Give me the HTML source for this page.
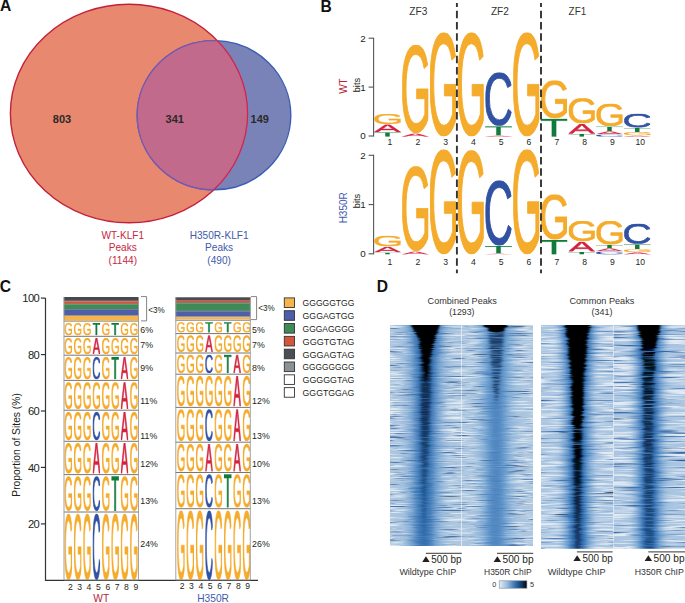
<!DOCTYPE html>
<html><head><meta charset="utf-8"><title>Figure</title><style>
html,body{margin:0;padding:0;background:#fff;}
body{width:685px;height:603px;overflow:hidden;position:relative;font-family:"Liberation Sans", sans-serif;}
svg{position:absolute;left:0;top:0;display:block;}
svg text{font-family:"Liberation Sans", sans-serif;}
</style></head><body>
<svg width="685" height="603" viewBox="0 0 685 603">
<defs><symbol id="RG" viewBox="0 0 1337 1450" preserveAspectRatio="none"><path d="M0 719Q0 376 184 188Q368 0 701 0Q935 0 1081 79Q1227 158 1306 332L1124 386Q1064 266 958.5 211Q853 156 696 156Q452 156 323 303.5Q194 451 194 719Q194 986 331 1140.5Q468 1295 710 1295Q848 1295 967.5 1253Q1087 1211 1161 1139V885H740V725H1337V1211Q1225 1325 1062.5 1387.5Q900 1450 710 1450Q489 1450 329 1362Q169 1274 84.5 1108.5Q0 943 0 719Z" vector-effect="non-scaling-stroke"/></symbol><symbol id="RA" viewBox="0 0 1358 1409" preserveAspectRatio="none"><path d="M1163 1409 1002 997H360L198 1409H0L575 0H792L1358 1409ZM681 144 672 172Q647 255 598 385L418 848H945L764 383Q736 314 708 227Z" vector-effect="non-scaling-stroke"/></symbol><symbol id="RC" viewBox="0 0 1297 1450" preserveAspectRatio="none"><path d="M688 156Q454 156 324 306.5Q194 457 194 719Q194 978 329.5 1135.5Q465 1293 696 1293Q992 1293 1141 1000L1297 1078Q1210 1260 1052.5 1355Q895 1450 687 1450Q474 1450 318.5 1361.5Q163 1273 81.5 1108.5Q0 944 0 719Q0 382 182 191Q364 0 686 0Q911 0 1062 88Q1213 176 1284 349L1103 409Q1054 286 945.5 221Q837 156 688 156Z" vector-effect="non-scaling-stroke"/></symbol><symbol id="RT" viewBox="0 0 1158 1409" preserveAspectRatio="none"><path d="M674 156V1409H484V156H0V0H1158V156Z" vector-effect="non-scaling-stroke"/></symbol><linearGradient id="cbar" x1="0" x2="1" y1="0" y2="0"><stop offset="0" stop-color="#E4EEF8"/><stop offset="0.3" stop-color="#93B8DE"/><stop offset="0.55" stop-color="#3A78B8"/><stop offset="0.8" stop-color="#133C6E"/><stop offset="1" stop-color="#02060E"/></linearGradient><filter id="bl1_0" x="-50%" y="-10%" width="200%" height="120%"><feGaussianBlur stdDeviation="1.0 0.6"/></filter><filter id="bl1_2" x="-50%" y="-10%" width="200%" height="120%"><feGaussianBlur stdDeviation="1.2 0.6"/></filter><filter id="bl1_5" x="-50%" y="-10%" width="200%" height="120%"><feGaussianBlur stdDeviation="1.5 0.6"/></filter><filter id="bl2" x="-50%" y="-10%" width="200%" height="120%"><feGaussianBlur stdDeviation="2 0.6"/></filter><filter id="bl2_5" x="-50%" y="-10%" width="200%" height="120%"><feGaussianBlur stdDeviation="2.5 0.6"/></filter><filter id="bl3" x="-50%" y="-10%" width="200%" height="120%"><feGaussianBlur stdDeviation="3 0.6"/></filter><filter id="bl3_5" x="-50%" y="-10%" width="200%" height="120%"><feGaussianBlur stdDeviation="3.5 0.6"/></filter><filter id="bl4" x="-50%" y="-10%" width="200%" height="120%"><feGaussianBlur stdDeviation="4 0.6"/></filter><filter id="bl5" x="-50%" y="-10%" width="200%" height="120%"><feGaussianBlur stdDeviation="5 0.6"/></filter><filter id="bl7" x="-50%" y="-10%" width="200%" height="120%"><feGaussianBlur stdDeviation="7 0.6"/></filter><clipPath id="hca"><rect x="390.0" y="325.0" width="71.5" height="221.0"/></clipPath><filter id="twa" x="390.0" y="325.0" width="71.5" height="221.0" filterUnits="userSpaceOnUse" color-interpolation-filters="sRGB"><feTurbulence type="fractalNoise" baseFrequency="0.032 0.93" numOctaves="3" seed="2" result="n"/><feColorMatrix in="n" type="matrix" values="0 0 0 0 0.89 0 0 0 0 0.92 0 0 0 0 0.95 4.2 0 0 0 -2.0"/></filter><filter id="tda" x="390.0" y="325.0" width="71.5" height="221.0" filterUnits="userSpaceOnUse" color-interpolation-filters="sRGB"><feTurbulence type="fractalNoise" baseFrequency="0.032 0.93" numOctaves="3" seed="52" result="n"/><feColorMatrix in="n" type="matrix" values="0 0 0 0 0.3 0 0 0 0 0.45 0 0 0 0 0.65 -4.2 0 0 0 1.75"/></filter><filter id="tga" x="390.0" y="325.0" width="71.5" height="221.0" filterUnits="userSpaceOnUse" color-interpolation-filters="sRGB"><feTurbulence type="fractalNoise" baseFrequency="0.03 0.5" numOctaves="1" seed="92" result="n"/><feColorMatrix in="n" type="matrix" values="0 0 0 0 0.3 0 0 0 0 0.3 0 0 0 0 0.33 -9 0 0 0 2.5"/></filter><filter id="tma" x="390.0" y="325.0" width="71.5" height="221.0" filterUnits="userSpaceOnUse" color-interpolation-filters="sRGB"><feTurbulence type="fractalNoise" baseFrequency="0.02 0.83" numOctaves="2" seed="22" result="n"/><feColorMatrix in="n" type="matrix" values="2.5 0 0 0 -0.2 2.5 0 0 0 -0.2 2.5 0 0 0 -0.2 0 0 0 0 1"/></filter><mask id="mka" maskUnits="userSpaceOnUse" x="390.0" y="325.0" width="71.5" height="221.0"><rect x="390.0" y="325.0" width="71.5" height="221.0" fill="#fff" filter="url(#tma)"/></mask><filter id="tna" x="390.0" y="325.0" width="71.5" height="221.0" filterUnits="userSpaceOnUse" color-interpolation-filters="sRGB"><feTurbulence type="fractalNoise" baseFrequency="0.032 0.93" numOctaves="2" seed="22" result="n"/><feColorMatrix in="n" type="matrix" values="1.8 0 0 0 0.2 1.8 0 0 0 0.2 1.8 0 0 0 0.2 0 0 0 0 1"/></filter><mask id="mma" maskUnits="userSpaceOnUse" x="390.0" y="325.0" width="71.5" height="221.0"><rect x="390.0" y="325.0" width="71.5" height="221.0" fill="#fff" filter="url(#tna)"/></mask><filter id="dpa" x="380.0" y="325.0" width="91.5" height="221.0" filterUnits="userSpaceOnUse" color-interpolation-filters="sRGB"><feTurbulence type="fractalNoise" baseFrequency="0.01 0.93" numOctaves="2" seed="72" result="t"/><feColorMatrix in="t" type="matrix" values="1 0 0 0 0 0 0 0 0 0.5 0 0 0 0 0 0 0 0 0 1" result="m"/><feDisplacementMap in="SourceGraphic" in2="m" scale="4" xChannelSelector="R" yChannelSelector="G"/></filter><linearGradient id="vga0" gradientUnits="userSpaceOnUse" x1="0" y1="325.0" x2="0" y2="546.0"><stop offset="0.000" stop-color="#3E7CBE" stop-opacity="0.8"/><stop offset="1.000" stop-color="#4A86C4" stop-opacity="0.75"/></linearGradient><linearGradient id="vga1" gradientUnits="userSpaceOnUse" x1="0" y1="325.0" x2="0" y2="546.0"><stop offset="0.000" stop-color="#1F5CA0" stop-opacity="0.85"/><stop offset="0.452" stop-color="#2563A6" stop-opacity="0.8"/><stop offset="1.000" stop-color="#2A68AA" stop-opacity="0.8"/></linearGradient><linearGradient id="vga2" gradientUnits="userSpaceOnUse" x1="0" y1="325.0" x2="0" y2="546.0"><stop offset="0.000" stop-color="#081E3C" stop-opacity="0.95"/><stop offset="0.407" stop-color="#0C2A50" stop-opacity="0.9"/><stop offset="0.679" stop-color="#163E6E" stop-opacity="0.7"/><stop offset="1.000" stop-color="#1A4A80" stop-opacity="0.5"/></linearGradient><clipPath id="hcb"><rect x="461.5" y="325.0" width="71.5" height="221.0"/></clipPath><filter id="twb" x="461.5" y="325.0" width="71.5" height="221.0" filterUnits="userSpaceOnUse" color-interpolation-filters="sRGB"><feTurbulence type="fractalNoise" baseFrequency="0.032 0.93" numOctaves="3" seed="2" result="n"/><feColorMatrix in="n" type="matrix" values="0 0 0 0 0.89 0 0 0 0 0.92 0 0 0 0 0.95 4.2 0 0 0 -2.0"/></filter><filter id="tdb" x="461.5" y="325.0" width="71.5" height="221.0" filterUnits="userSpaceOnUse" color-interpolation-filters="sRGB"><feTurbulence type="fractalNoise" baseFrequency="0.032 0.93" numOctaves="3" seed="52" result="n"/><feColorMatrix in="n" type="matrix" values="0 0 0 0 0.3 0 0 0 0 0.45 0 0 0 0 0.65 -4.2 0 0 0 1.75"/></filter><filter id="tgb" x="461.5" y="325.0" width="71.5" height="221.0" filterUnits="userSpaceOnUse" color-interpolation-filters="sRGB"><feTurbulence type="fractalNoise" baseFrequency="0.03 0.5" numOctaves="1" seed="92" result="n"/><feColorMatrix in="n" type="matrix" values="0 0 0 0 0.3 0 0 0 0 0.3 0 0 0 0 0.33 -9 0 0 0 2.5"/></filter><filter id="tmb" x="461.5" y="325.0" width="71.5" height="221.0" filterUnits="userSpaceOnUse" color-interpolation-filters="sRGB"><feTurbulence type="fractalNoise" baseFrequency="0.02 0.83" numOctaves="2" seed="22" result="n"/><feColorMatrix in="n" type="matrix" values="4.0 0 0 0 -1.3 4.0 0 0 0 -1.3 4.0 0 0 0 -1.3 0 0 0 0 1"/></filter><mask id="mkb" maskUnits="userSpaceOnUse" x="461.5" y="325.0" width="71.5" height="221.0"><rect x="461.5" y="325.0" width="71.5" height="221.0" fill="#fff" filter="url(#tmb)"/></mask><filter id="tnb" x="461.5" y="325.0" width="71.5" height="221.0" filterUnits="userSpaceOnUse" color-interpolation-filters="sRGB"><feTurbulence type="fractalNoise" baseFrequency="0.032 0.93" numOctaves="2" seed="22" result="n"/><feColorMatrix in="n" type="matrix" values="1.8 0 0 0 0.2 1.8 0 0 0 0.2 1.8 0 0 0 0.2 0 0 0 0 1"/></filter><mask id="mmb" maskUnits="userSpaceOnUse" x="461.5" y="325.0" width="71.5" height="221.0"><rect x="461.5" y="325.0" width="71.5" height="221.0" fill="#fff" filter="url(#tnb)"/></mask><filter id="dpb" x="451.5" y="325.0" width="91.5" height="221.0" filterUnits="userSpaceOnUse" color-interpolation-filters="sRGB"><feTurbulence type="fractalNoise" baseFrequency="0.01 0.93" numOctaves="2" seed="72" result="t"/><feColorMatrix in="t" type="matrix" values="1 0 0 0 0 0 0 0 0 0.5 0 0 0 0 0 0 0 0 0 1" result="m"/><feDisplacementMap in="SourceGraphic" in2="m" scale="4" xChannelSelector="R" yChannelSelector="G"/></filter><clipPath id="hcc"><rect x="541.0" y="325.0" width="72.5" height="223.70000000000005"/></clipPath><filter id="twc" x="541.0" y="325.0" width="72.5" height="223.70000000000005" filterUnits="userSpaceOnUse" color-interpolation-filters="sRGB"><feTurbulence type="fractalNoise" baseFrequency="0.02 0.55" numOctaves="2" seed="3" result="n"/><feColorMatrix in="n" type="matrix" values="0 0 0 0 0.89 0 0 0 0 0.92 0 0 0 0 0.95 4.5 0 0 0 -2.0"/></filter><filter id="tdc" x="541.0" y="325.0" width="72.5" height="223.70000000000005" filterUnits="userSpaceOnUse" color-interpolation-filters="sRGB"><feTurbulence type="fractalNoise" baseFrequency="0.02 0.55" numOctaves="2" seed="53" result="n"/><feColorMatrix in="n" type="matrix" values="0 0 0 0 0.16 0 0 0 0 0.36 0 0 0 0 0.62 -4.0 0 0 0 1.6"/></filter><filter id="tgc" x="541.0" y="325.0" width="72.5" height="223.70000000000005" filterUnits="userSpaceOnUse" color-interpolation-filters="sRGB"><feTurbulence type="fractalNoise" baseFrequency="0.04 0.5" numOctaves="1" seed="93" result="n"/><feColorMatrix in="n" type="matrix" values="0 0 0 0 0.3 0 0 0 0 0.3 0 0 0 0 0.33 -9 0 0 0 2.45"/></filter><filter id="tmc" x="541.0" y="325.0" width="72.5" height="223.70000000000005" filterUnits="userSpaceOnUse" color-interpolation-filters="sRGB"><feTurbulence type="fractalNoise" baseFrequency="0.02 0.55" numOctaves="2" seed="23" result="n"/><feColorMatrix in="n" type="matrix" values="4.0 0 0 0 -0.6 4.0 0 0 0 -0.6 4.0 0 0 0 -0.6 0 0 0 0 1"/></filter><mask id="mkc" maskUnits="userSpaceOnUse" x="541.0" y="325.0" width="72.5" height="223.70000000000005"><rect x="541.0" y="325.0" width="72.5" height="223.70000000000005" fill="#fff" filter="url(#tmc)"/></mask><filter id="tnc" x="541.0" y="325.0" width="72.5" height="223.70000000000005" filterUnits="userSpaceOnUse" color-interpolation-filters="sRGB"><feTurbulence type="fractalNoise" baseFrequency="0.02 0.55" numOctaves="2" seed="23" result="n"/><feColorMatrix in="n" type="matrix" values="1.6 0 0 0 0.35 1.6 0 0 0 0.35 1.6 0 0 0 0.35 0 0 0 0 1"/></filter><mask id="mmc" maskUnits="userSpaceOnUse" x="541.0" y="325.0" width="72.5" height="223.70000000000005"><rect x="541.0" y="325.0" width="72.5" height="223.70000000000005" fill="#fff" filter="url(#tnc)"/></mask><filter id="dpc" x="531.0" y="325.0" width="92.5" height="223.70000000000005" filterUnits="userSpaceOnUse" color-interpolation-filters="sRGB"><feTurbulence type="fractalNoise" baseFrequency="0.01 0.55" numOctaves="2" seed="73" result="t"/><feColorMatrix in="t" type="matrix" values="1 0 0 0 0 0 0 0 0 0.5 0 0 0 0 0 0 0 0 0 1" result="m"/><feDisplacementMap in="SourceGraphic" in2="m" scale="5" xChannelSelector="R" yChannelSelector="G"/></filter><linearGradient id="vgc0" gradientUnits="userSpaceOnUse" x1="0" y1="325.0" x2="0" y2="548.7"><stop offset="0.000" stop-color="#3A78BA" stop-opacity="0.8"/><stop offset="1.000" stop-color="#4282C2" stop-opacity="0.72"/></linearGradient><linearGradient id="vgc1" gradientUnits="userSpaceOnUse" x1="0" y1="325.0" x2="0" y2="548.7"><stop offset="0.000" stop-color="#2A68AC" stop-opacity="0.9"/><stop offset="1.000" stop-color="#2A68AC" stop-opacity="0.85"/></linearGradient><linearGradient id="vgc2" gradientUnits="userSpaceOnUse" x1="0" y1="325.0" x2="0" y2="548.7"><stop offset="0.000" stop-color="#0E2F58" stop-opacity="0.95"/><stop offset="0.671" stop-color="#123A6A" stop-opacity="0.85"/><stop offset="1.000" stop-color="#1A4A80" stop-opacity="0.6"/></linearGradient><linearGradient id="vgc4" gradientUnits="userSpaceOnUse" x1="0" y1="325.0" x2="0" y2="548.7"><stop offset="0.000" stop-color="#000000" stop-opacity="1"/><stop offset="0.536" stop-color="#000000" stop-opacity="1"/><stop offset="0.760" stop-color="#0A1A30" stop-opacity="0.85"/><stop offset="1.000" stop-color="#0E2A50" stop-opacity="0.6"/></linearGradient><clipPath id="hcd"><rect x="613.5" y="325.0" width="71.5" height="223.70000000000005"/></clipPath><filter id="twd" x="613.5" y="325.0" width="71.5" height="223.70000000000005" filterUnits="userSpaceOnUse" color-interpolation-filters="sRGB"><feTurbulence type="fractalNoise" baseFrequency="0.02 0.55" numOctaves="2" seed="4" result="n"/><feColorMatrix in="n" type="matrix" values="0 0 0 0 0.89 0 0 0 0 0.92 0 0 0 0 0.95 4.5 0 0 0 -2.0"/></filter><filter id="tdd" x="613.5" y="325.0" width="71.5" height="223.70000000000005" filterUnits="userSpaceOnUse" color-interpolation-filters="sRGB"><feTurbulence type="fractalNoise" baseFrequency="0.02 0.55" numOctaves="2" seed="54" result="n"/><feColorMatrix in="n" type="matrix" values="0 0 0 0 0.16 0 0 0 0 0.36 0 0 0 0 0.62 -4.0 0 0 0 1.6"/></filter><filter id="tgd" x="613.5" y="325.0" width="71.5" height="223.70000000000005" filterUnits="userSpaceOnUse" color-interpolation-filters="sRGB"><feTurbulence type="fractalNoise" baseFrequency="0.04 0.5" numOctaves="1" seed="94" result="n"/><feColorMatrix in="n" type="matrix" values="0 0 0 0 0.3 0 0 0 0 0.3 0 0 0 0 0.33 -9 0 0 0 2.45"/></filter><filter id="tmd" x="613.5" y="325.0" width="71.5" height="223.70000000000005" filterUnits="userSpaceOnUse" color-interpolation-filters="sRGB"><feTurbulence type="fractalNoise" baseFrequency="0.02 0.55" numOctaves="2" seed="24" result="n"/><feColorMatrix in="n" type="matrix" values="4.0 0 0 0 -1.2 4.0 0 0 0 -1.2 4.0 0 0 0 -1.2 0 0 0 0 1"/></filter><mask id="mkd" maskUnits="userSpaceOnUse" x="613.5" y="325.0" width="71.5" height="223.70000000000005"><rect x="613.5" y="325.0" width="71.5" height="223.70000000000005" fill="#fff" filter="url(#tmd)"/></mask><filter id="tnd" x="613.5" y="325.0" width="71.5" height="223.70000000000005" filterUnits="userSpaceOnUse" color-interpolation-filters="sRGB"><feTurbulence type="fractalNoise" baseFrequency="0.02 0.55" numOctaves="2" seed="24" result="n"/><feColorMatrix in="n" type="matrix" values="1.6 0 0 0 0.35 1.6 0 0 0 0.35 1.6 0 0 0 0.35 0 0 0 0 1"/></filter><mask id="mmd" maskUnits="userSpaceOnUse" x="613.5" y="325.0" width="71.5" height="223.70000000000005"><rect x="613.5" y="325.0" width="71.5" height="223.70000000000005" fill="#fff" filter="url(#tnd)"/></mask><filter id="dpd" x="603.5" y="325.0" width="91.5" height="223.70000000000005" filterUnits="userSpaceOnUse" color-interpolation-filters="sRGB"><feTurbulence type="fractalNoise" baseFrequency="0.01 0.55" numOctaves="2" seed="74" result="t"/><feColorMatrix in="t" type="matrix" values="1 0 0 0 0 0 0 0 0 0.5 0 0 0 0 0 0 0 0 0 1" result="m"/><feDisplacementMap in="SourceGraphic" in2="m" scale="5" xChannelSelector="R" yChannelSelector="G"/></filter><linearGradient id="vgd0" gradientUnits="userSpaceOnUse" x1="0" y1="325.0" x2="0" y2="548.7"><stop offset="0.000" stop-color="#3A78BA" stop-opacity="0.8"/><stop offset="1.000" stop-color="#4282C2" stop-opacity="0.72"/></linearGradient><linearGradient id="vgd1" gradientUnits="userSpaceOnUse" x1="0" y1="325.0" x2="0" y2="548.7"><stop offset="0.000" stop-color="#2A68AC" stop-opacity="0.9"/><stop offset="1.000" stop-color="#2A68AC" stop-opacity="0.85"/></linearGradient><linearGradient id="vgd3" gradientUnits="userSpaceOnUse" x1="0" y1="325.0" x2="0" y2="548.7"><stop offset="0.000" stop-color="#000000" stop-opacity="1"/><stop offset="0.179" stop-color="#020810" stop-opacity="1"/><stop offset="0.447" stop-color="#0C1F3A" stop-opacity="0.85"/><stop offset="1.000" stop-color="#163A66" stop-opacity="0.6"/></linearGradient></defs>
<text x="0" y="11.4" font-size="15.6" text-anchor="start" fill="#111" font-weight="bold" >A</text>
<ellipse cx="129" cy="113.5" rx="118.6" ry="109.2" fill="#E8886F" stroke="#C3203A" stroke-width="1.4"/>
<clipPath id="cbig"><ellipse cx="129" cy="113.5" rx="118.6" ry="109.2"/></clipPath>
<ellipse cx="214" cy="115.2" rx="76.8" ry="74.6" fill="#7A83B8" stroke="#3B5DB4" stroke-width="1.4"/>
<ellipse cx="214" cy="115.2" rx="76.8" ry="74.6" fill="#C26A8B" stroke="#7B58B0" stroke-width="1.4" clip-path="url(#cbig)"/>
<clipPath id="csmall"><ellipse cx="214" cy="115.2" rx="76.8" ry="74.6"/></clipPath>
<ellipse cx="129" cy="113.5" rx="118.6" ry="109.2" fill="none" stroke="#D02550" stroke-width="1.3" clip-path="url(#csmall)"/>
<text x="62" y="122.6" font-size="11" text-anchor="middle" fill="#2a2a2a" font-weight="bold" >803</text>
<text x="174.8" y="122.6" font-size="11" text-anchor="middle" fill="#2a2a2a" font-weight="bold" >341</text>
<text x="259.8" y="122.6" font-size="11" text-anchor="middle" fill="#2a2a2a" font-weight="bold" >149</text>
<text x="122.8" y="239.2" font-size="10.1" text-anchor="middle" fill="#C8283F" font-weight="normal" >WT-KLF1</text>
<text x="122.8" y="251.39999999999998" font-size="10.1" text-anchor="middle" fill="#C8283F" font-weight="normal" >Peaks</text>
<text x="122.8" y="263.59999999999997" font-size="10.1" text-anchor="middle" fill="#C8283F" font-weight="normal" >(1144)</text>
<text x="219.1" y="239.2" font-size="10.1" text-anchor="middle" fill="#3F5AAE" font-weight="normal" >H350R-KLF1</text>
<text x="219.1" y="251.39999999999998" font-size="10.1" text-anchor="middle" fill="#3F5AAE" font-weight="normal" >Peaks</text>
<text x="219.1" y="263.59999999999997" font-size="10.1" text-anchor="middle" fill="#3F5AAE" font-weight="normal" >(490)</text>
<text x="320.6" y="11.7" font-size="15.6" text-anchor="start" fill="#111" font-weight="bold" >B</text>
<text x="418.35" y="14.9" font-size="10.6" text-anchor="middle" fill="#333" font-weight="normal" textLength="18.0" lengthAdjust="spacingAndGlyphs">ZF3</text>
<text x="499.9" y="14.9" font-size="10.6" text-anchor="middle" fill="#333" font-weight="normal" textLength="18.0" lengthAdjust="spacingAndGlyphs">ZF2</text>
<text x="577.4" y="14.9" font-size="10.6" text-anchor="middle" fill="#333" font-weight="normal" textLength="17.6" lengthAdjust="spacingAndGlyphs">ZF1</text>
<path d="M373.6 37.7V136.5" stroke="#555" stroke-width="1.1" fill="none"/>
<path d="M368.6 38.2H373.6" stroke="#555" stroke-width="1.1"/>
<text x="365.7" y="41.6" font-size="9.8" text-anchor="end" fill="#231f20" font-weight="normal" >2</text>
<path d="M368.6 87.1H373.6" stroke="#555" stroke-width="1.1"/>
<text x="365.7" y="90.5" font-size="9.8" text-anchor="end" fill="#231f20" font-weight="normal" >1</text>
<path d="M368.6 136.0H373.6" stroke="#555" stroke-width="1.1"/>
<text x="365.7" y="139.4" font-size="9.8" text-anchor="end" fill="#231f20" font-weight="normal" >0</text>
<text transform="translate(359.9 85.1) rotate(-90)" font-size="9.2" text-anchor="middle" fill="#231f20">bits</text>
<text transform="translate(346.6 86.1) rotate(-90)" font-size="10" text-anchor="middle" fill="#B5243A">WT</text>
<use href="#RT" x="374.04" y="132.37" width="26.91" height="4.38" fill="#117B3C" stroke="#117B3C" stroke-width="0.089452"/>
<use href="#RA" x="374.24" y="124.54" width="26.52" height="7.55" fill="#D2233E" stroke="#D2233E" stroke-width="0.48182100000000005"/>
<use href="#RG" x="374.32" y="114.04" width="26.37" height="9.94" fill="#F5AB2B" stroke="#F5AB2B" stroke-width="0.6342960000000001"/>
<use href="#RA" x="401.85" y="133.55" width="26.80" height="3.15" fill="#D2233E" stroke="#D2233E" stroke-width="0.20126699999999997"/>
<use href="#RG" x="402.20" y="44.95" width="26.10" height="88.04" fill="#F5AB2B" stroke="#F5AB2B" stroke-width="0.9"/>
<use href="#RG" x="429.95" y="32.55" width="26.10" height="103.80" fill="#F5AB2B" stroke="#F5AB2B" stroke-width="0.9"/>
<use href="#RG" x="457.70" y="32.55" width="26.10" height="103.80" fill="#F5AB2B" stroke="#F5AB2B" stroke-width="0.9"/>
<use href="#RA" x="485.04" y="135.52" width="26.92" height="1.24" fill="#D2233E" stroke="#D2233E" stroke-width="0.07928700000000001"/>
<use href="#RT" x="485.09" y="126.32" width="26.81" height="9.07" fill="#117B3C" stroke="#117B3C" stroke-width="0.185003"/>
<use href="#RC" x="485.45" y="72.50" width="26.10" height="53.28" fill="#3152A3" stroke="#3152A3" stroke-width="0.9"/>
<use href="#RG" x="513.20" y="32.45" width="26.10" height="103.90" fill="#F5AB2B" stroke="#F5AB2B" stroke-width="0.9"/>
<use href="#RT" x="540.65" y="118.75" width="26.70" height="17.90" fill="#117B3C" stroke="#117B3C" stroke-width="0.3"/>
<use href="#RG" x="540.95" y="80.43" width="26.10" height="37.73" fill="#F5AB2B" stroke="#F5AB2B" stroke-width="0.9"/>
<use href="#RT" x="568.28" y="133.98" width="26.94" height="2.79" fill="#117B3C" stroke="#117B3C" stroke-width="0.05692399999999999"/>
<use href="#RA" x="568.55" y="124.09" width="26.39" height="9.56" fill="#D2233E" stroke="#D2233E" stroke-width="0.6099"/>
<use href="#RG" x="568.70" y="98.22" width="26.10" height="25.12" fill="#F5AB2B" stroke="#F5AB2B" stroke-width="0.9"/>
<use href="#RC" x="596.07" y="134.53" width="26.86" height="2.20" fill="#3152A3" stroke="#3152A3" stroke-width="0.140277"/>
<use href="#RA" x="596.10" y="131.21" width="26.80" height="3.15" fill="#D2233E" stroke="#D2233E" stroke-width="0.20126699999999997"/>
<use href="#RT" x="596.05" y="126.48" width="26.91" height="4.58" fill="#117B3C" stroke="#117B3C" stroke-width="0.09351799999999999"/>
<use href="#RG" x="596.45" y="103.71" width="26.10" height="22.28" fill="#F5AB2B" stroke="#F5AB2B" stroke-width="0.9"/>
<use href="#RA" x="623.79" y="135.52" width="26.92" height="1.24" fill="#D2233E" stroke="#D2233E" stroke-width="0.07928700000000001"/>
<use href="#RG" x="623.86" y="132.03" width="26.79" height="3.34" fill="#F5AB2B" stroke="#F5AB2B" stroke-width="0.213465"/>
<use href="#RT" x="623.79" y="127.90" width="26.92" height="3.98" fill="#117B3C" stroke="#117B3C" stroke-width="0.08132"/>
<use href="#RC" x="624.18" y="113.85" width="26.13" height="13.57" fill="#3152A3" stroke="#3152A3" stroke-width="0.866058"/>
<text x="390.0" y="144.9" font-size="8.6" text-anchor="middle" fill="#231f20" font-weight="normal" >1</text>
<text x="417.8" y="144.9" font-size="8.6" text-anchor="middle" fill="#231f20" font-weight="normal" >2</text>
<text x="445.6" y="144.9" font-size="8.6" text-anchor="middle" fill="#231f20" font-weight="normal" >3</text>
<text x="473.4" y="144.9" font-size="8.6" text-anchor="middle" fill="#231f20" font-weight="normal" >4</text>
<text x="501.2" y="144.9" font-size="8.6" text-anchor="middle" fill="#231f20" font-weight="normal" >5</text>
<text x="529.0" y="144.9" font-size="8.6" text-anchor="middle" fill="#231f20" font-weight="normal" >6</text>
<text x="556.8" y="144.9" font-size="8.6" text-anchor="middle" fill="#231f20" font-weight="normal" >7</text>
<text x="584.6" y="144.9" font-size="8.6" text-anchor="middle" fill="#231f20" font-weight="normal" >8</text>
<text x="612.4" y="144.9" font-size="8.6" text-anchor="middle" fill="#231f20" font-weight="normal" >9</text>
<text x="640.2" y="144.9" font-size="8.6" text-anchor="middle" fill="#231f20" font-weight="normal" >10</text>
<path d="M373.6 154.8V254.3" stroke="#555" stroke-width="1.1" fill="none"/>
<path d="M368.6 155.3H373.6" stroke="#555" stroke-width="1.1"/>
<text x="365.7" y="158.7" font-size="9.8" text-anchor="end" fill="#231f20" font-weight="normal" >2</text>
<path d="M368.6 204.6H373.6" stroke="#555" stroke-width="1.1"/>
<text x="365.7" y="208.0" font-size="9.8" text-anchor="end" fill="#231f20" font-weight="normal" >1</text>
<path d="M368.6 253.8H373.6" stroke="#555" stroke-width="1.1"/>
<text x="365.7" y="257.2" font-size="9.8" text-anchor="end" fill="#231f20" font-weight="normal" >0</text>
<text transform="translate(359.9 201.0) rotate(-90)" font-size="9.2" text-anchor="middle" fill="#231f20">bits</text>
<text transform="translate(346.6 207.8) rotate(-90)" font-size="10" text-anchor="middle" fill="#3F5AAE">H350R</text>
<use href="#RT" x="374.02" y="252.50" width="26.96" height="2.08" fill="#117B3C" stroke="#117B3C" stroke-width="0.04242"/>
<use href="#RA" x="374.18" y="246.80" width="26.65" height="5.51" fill="#D2233E" stroke="#D2233E" stroke-width="0.35147999999999996"/>
<use href="#RG" x="374.33" y="235.84" width="26.33" height="10.44" fill="#F5AB2B" stroke="#F5AB2B" stroke-width="0.6666000000000001"/>
<use href="#RA" x="401.85" y="251.46" width="26.81" height="3.04" fill="#D2233E" stroke="#D2233E" stroke-width="0.19392"/>
<use href="#RG" x="402.20" y="166.17" width="26.10" height="84.75" fill="#F5AB2B" stroke="#F5AB2B" stroke-width="0.9"/>
<use href="#RG" x="429.95" y="149.50" width="26.10" height="104.64" fill="#F5AB2B" stroke="#F5AB2B" stroke-width="0.9"/>
<use href="#RG" x="457.70" y="150.21" width="26.10" height="103.94" fill="#F5AB2B" stroke="#F5AB2B" stroke-width="0.9"/>
<use href="#RA" x="485.03" y="253.62" width="26.94" height="0.95" fill="#D2233E" stroke="#D2233E" stroke-width="0.0606"/>
<use href="#RT" x="485.08" y="245.99" width="26.85" height="7.52" fill="#117B3C" stroke="#117B3C" stroke-width="0.15351999999999996"/>
<use href="#RC" x="485.45" y="180.51" width="26.10" height="64.95" fill="#3152A3" stroke="#3152A3" stroke-width="0.9"/>
<use href="#RG" x="513.20" y="149.40" width="26.10" height="104.75" fill="#F5AB2B" stroke="#F5AB2B" stroke-width="0.9"/>
<use href="#RT" x="540.65" y="240.10" width="26.71" height="14.35" fill="#117B3C" stroke="#117B3C" stroke-width="0.2929"/>
<use href="#RG" x="540.95" y="194.45" width="26.10" height="45.05" fill="#F5AB2B" stroke="#F5AB2B" stroke-width="0.9"/>
<use href="#RT" x="568.28" y="251.90" width="26.95" height="2.67" fill="#117B3C" stroke="#117B3C" stroke-width="0.054540000000000005"/>
<use href="#RA" x="568.56" y="241.78" width="26.38" height="9.78" fill="#D2233E" stroke="#D2233E" stroke-width="0.6241800000000001"/>
<use href="#RG" x="568.70" y="221.11" width="26.10" height="19.91" fill="#F5AB2B" stroke="#F5AB2B" stroke-width="0.9"/>
<use href="#RC" x="596.10" y="251.46" width="26.81" height="3.04" fill="#3152A3" stroke="#3152A3" stroke-width="0.19392"/>
<use href="#RA" x="596.10" y="248.13" width="26.80" height="3.13" fill="#D2233E" stroke="#D2233E" stroke-width="0.19998"/>
<use href="#RT" x="596.03" y="244.94" width="26.94" height="3.07" fill="#117B3C" stroke="#117B3C" stroke-width="0.06262"/>
<use href="#RG" x="596.45" y="221.11" width="26.10" height="23.34" fill="#F5AB2B" stroke="#F5AB2B" stroke-width="0.9"/>
<use href="#RA" x="623.82" y="252.25" width="26.85" height="2.28" fill="#D2233E" stroke="#D2233E" stroke-width="0.14543999999999999"/>
<use href="#RG" x="623.84" y="249.14" width="26.81" height="2.94" fill="#F5AB2B" stroke="#F5AB2B" stroke-width="0.18786000000000003"/>
<use href="#RT" x="623.80" y="244.25" width="26.90" height="4.75" fill="#117B3C" stroke="#117B3C" stroke-width="0.09695999999999999"/>
<use href="#RC" x="624.20" y="223.84" width="26.10" height="19.91" fill="#3152A3" stroke="#3152A3" stroke-width="0.9"/>
<text x="390.0" y="264.7" font-size="8.6" text-anchor="middle" fill="#231f20" font-weight="normal" >1</text>
<text x="417.8" y="264.7" font-size="8.6" text-anchor="middle" fill="#231f20" font-weight="normal" >2</text>
<text x="445.6" y="264.7" font-size="8.6" text-anchor="middle" fill="#231f20" font-weight="normal" >3</text>
<text x="473.4" y="264.7" font-size="8.6" text-anchor="middle" fill="#231f20" font-weight="normal" >4</text>
<text x="501.2" y="264.7" font-size="8.6" text-anchor="middle" fill="#231f20" font-weight="normal" >5</text>
<text x="529.0" y="264.7" font-size="8.6" text-anchor="middle" fill="#231f20" font-weight="normal" >6</text>
<text x="556.8" y="264.7" font-size="8.6" text-anchor="middle" fill="#231f20" font-weight="normal" >7</text>
<text x="584.6" y="264.7" font-size="8.6" text-anchor="middle" fill="#231f20" font-weight="normal" >8</text>
<text x="612.4" y="264.7" font-size="8.6" text-anchor="middle" fill="#231f20" font-weight="normal" >9</text>
<text x="640.2" y="264.7" font-size="8.6" text-anchor="middle" fill="#231f20" font-weight="normal" >10</text>
<path d="M456.9 3V273.3" stroke="#333" stroke-width="1.9" stroke-dasharray="7.4 3.85" stroke-dashoffset="3.4" fill="none"/>
<path d="M541.0 3V273.3" stroke="#333" stroke-width="1.9" stroke-dasharray="7.4 3.85" stroke-dashoffset="3.4" fill="none"/>
<text x="-0.2" y="291.6" font-size="15.6" text-anchor="start" fill="#111" font-weight="bold" >C</text>
<path d="M45.5 298.1V580.3H258" stroke="#333" stroke-width="1.2" fill="none"/>
<path d="M40.9 298.1H45.5" stroke="#333" stroke-width="1.2"/>
<text x="39.2" y="302.2" font-size="11.2" text-anchor="end" fill="#231f20" font-weight="normal" letter-spacing="-0.6">100</text>
<path d="M40.9 354.6H45.5" stroke="#333" stroke-width="1.2"/>
<text x="39.2" y="358.7" font-size="11.2" text-anchor="end" fill="#231f20" font-weight="normal" letter-spacing="-0.6">80</text>
<path d="M40.9 411.0H45.5" stroke="#333" stroke-width="1.2"/>
<text x="39.2" y="415.1" font-size="11.2" text-anchor="end" fill="#231f20" font-weight="normal" letter-spacing="-0.6">60</text>
<path d="M40.9 467.4H45.5" stroke="#333" stroke-width="1.2"/>
<text x="39.2" y="471.5" font-size="11.2" text-anchor="end" fill="#231f20" font-weight="normal" letter-spacing="-0.6">40</text>
<path d="M40.9 523.9H45.5" stroke="#333" stroke-width="1.2"/>
<text x="39.2" y="528.0" font-size="11.2" text-anchor="end" fill="#231f20" font-weight="normal" letter-spacing="-0.6">20</text>
<text transform="translate(19.6 444.9) rotate(-90)" font-size="10.3" text-anchor="middle" fill="#231f20">Proportion of Sites (%)</text>
<rect x="63.8" y="297.0" width="74.9" height="3.60" fill="#46494E"/>
<rect x="63.8" y="300.6" width="74.9" height="0.70" fill="#2b2b2b"/>
<rect x="63.8" y="301.3" width="74.9" height="2.50" fill="#D4543C"/>
<rect x="63.8" y="303.8" width="74.9" height="0.50" fill="#333"/>
<rect x="63.8" y="304.3" width="74.9" height="4.80" fill="#3F8B57"/>
<rect x="63.8" y="309.1" width="74.9" height="0.50" fill="#333"/>
<rect x="63.8" y="309.6" width="74.9" height="5.40" fill="#4E5EA8"/>
<rect x="63.8" y="315.0" width="74.9" height="0.90" fill="#888"/>
<rect x="63.8" y="315.9" width="74.9" height="4.90" fill="#F6B54C"/>
<use href="#RG" x="64.55" y="323.05" width="7.50" height="12.15" fill="#F5AB2B" stroke="#F5AB2B" stroke-width="0.55"/>
<use href="#RG" x="73.92" y="323.05" width="7.50" height="12.15" fill="#F5AB2B" stroke="#F5AB2B" stroke-width="0.55"/>
<use href="#RG" x="83.29" y="323.05" width="7.50" height="12.15" fill="#F5AB2B" stroke="#F5AB2B" stroke-width="0.55"/>
<use href="#RT" x="92.66" y="323.05" width="7.50" height="12.15" fill="#117B3C" stroke="#117B3C" stroke-width="0.55"/>
<use href="#RG" x="102.03" y="323.05" width="7.50" height="12.15" fill="#F5AB2B" stroke="#F5AB2B" stroke-width="0.55"/>
<use href="#RT" x="111.40" y="323.05" width="7.50" height="12.15" fill="#117B3C" stroke="#117B3C" stroke-width="0.55"/>
<use href="#RG" x="120.77" y="323.05" width="7.50" height="12.15" fill="#F5AB2B" stroke="#F5AB2B" stroke-width="0.55"/>
<use href="#RG" x="130.14" y="323.05" width="7.50" height="12.15" fill="#F5AB2B" stroke="#F5AB2B" stroke-width="0.55"/>
<use href="#RG" x="64.55" y="338.05" width="7.50" height="16.05" fill="#F5AB2B" stroke="#F5AB2B" stroke-width="0.55"/>
<use href="#RG" x="73.92" y="338.05" width="7.50" height="16.05" fill="#F5AB2B" stroke="#F5AB2B" stroke-width="0.55"/>
<use href="#RG" x="83.29" y="338.05" width="7.50" height="16.05" fill="#F5AB2B" stroke="#F5AB2B" stroke-width="0.55"/>
<use href="#RA" x="92.66" y="338.05" width="7.50" height="16.05" fill="#D2233E" stroke="#D2233E" stroke-width="0.55"/>
<use href="#RG" x="102.03" y="338.05" width="7.50" height="16.05" fill="#F5AB2B" stroke="#F5AB2B" stroke-width="0.55"/>
<use href="#RG" x="111.40" y="338.05" width="7.50" height="16.05" fill="#F5AB2B" stroke="#F5AB2B" stroke-width="0.55"/>
<use href="#RG" x="120.77" y="338.05" width="7.50" height="16.05" fill="#F5AB2B" stroke="#F5AB2B" stroke-width="0.55"/>
<use href="#RG" x="130.14" y="338.05" width="7.50" height="16.05" fill="#F5AB2B" stroke="#F5AB2B" stroke-width="0.55"/>
<use href="#RG" x="64.55" y="356.95" width="7.50" height="22.35" fill="#F5AB2B" stroke="#F5AB2B" stroke-width="0.55"/>
<use href="#RG" x="73.92" y="356.95" width="7.50" height="22.35" fill="#F5AB2B" stroke="#F5AB2B" stroke-width="0.55"/>
<use href="#RG" x="83.29" y="356.95" width="7.50" height="22.35" fill="#F5AB2B" stroke="#F5AB2B" stroke-width="0.55"/>
<use href="#RC" x="92.66" y="356.95" width="7.50" height="22.35" fill="#3152A3" stroke="#3152A3" stroke-width="0.55"/>
<use href="#RG" x="102.03" y="356.95" width="7.50" height="22.35" fill="#F5AB2B" stroke="#F5AB2B" stroke-width="0.55"/>
<use href="#RT" x="111.40" y="356.95" width="7.50" height="22.35" fill="#117B3C" stroke="#117B3C" stroke-width="0.55"/>
<use href="#RA" x="120.77" y="356.95" width="7.50" height="22.35" fill="#D2233E" stroke="#D2233E" stroke-width="0.55"/>
<use href="#RG" x="130.14" y="356.95" width="7.50" height="22.35" fill="#F5AB2B" stroke="#F5AB2B" stroke-width="0.55"/>
<use href="#RG" x="64.55" y="382.15" width="7.50" height="26.95" fill="#F5AB2B" stroke="#F5AB2B" stroke-width="0.55"/>
<use href="#RG" x="73.92" y="382.15" width="7.50" height="26.95" fill="#F5AB2B" stroke="#F5AB2B" stroke-width="0.55"/>
<use href="#RG" x="83.29" y="382.15" width="7.50" height="26.95" fill="#F5AB2B" stroke="#F5AB2B" stroke-width="0.55"/>
<use href="#RG" x="92.66" y="382.15" width="7.50" height="26.95" fill="#F5AB2B" stroke="#F5AB2B" stroke-width="0.55"/>
<use href="#RG" x="102.03" y="382.15" width="7.50" height="26.95" fill="#F5AB2B" stroke="#F5AB2B" stroke-width="0.55"/>
<use href="#RG" x="111.40" y="382.15" width="7.50" height="26.95" fill="#F5AB2B" stroke="#F5AB2B" stroke-width="0.55"/>
<use href="#RA" x="120.77" y="382.15" width="7.50" height="26.95" fill="#D2233E" stroke="#D2233E" stroke-width="0.55"/>
<use href="#RG" x="130.14" y="382.15" width="7.50" height="26.95" fill="#F5AB2B" stroke="#F5AB2B" stroke-width="0.55"/>
<use href="#RG" x="64.55" y="411.95" width="7.50" height="28.25" fill="#F5AB2B" stroke="#F5AB2B" stroke-width="0.55"/>
<use href="#RG" x="73.92" y="411.95" width="7.50" height="28.25" fill="#F5AB2B" stroke="#F5AB2B" stroke-width="0.55"/>
<use href="#RG" x="83.29" y="411.95" width="7.50" height="28.25" fill="#F5AB2B" stroke="#F5AB2B" stroke-width="0.55"/>
<use href="#RC" x="92.66" y="411.95" width="7.50" height="28.25" fill="#3152A3" stroke="#3152A3" stroke-width="0.55"/>
<use href="#RG" x="102.03" y="411.95" width="7.50" height="28.25" fill="#F5AB2B" stroke="#F5AB2B" stroke-width="0.55"/>
<use href="#RG" x="111.40" y="411.95" width="7.50" height="28.25" fill="#F5AB2B" stroke="#F5AB2B" stroke-width="0.55"/>
<use href="#RA" x="120.77" y="411.95" width="7.50" height="28.25" fill="#D2233E" stroke="#D2233E" stroke-width="0.55"/>
<use href="#RG" x="130.14" y="411.95" width="7.50" height="28.25" fill="#F5AB2B" stroke="#F5AB2B" stroke-width="0.55"/>
<use href="#RG" x="64.55" y="443.05" width="7.50" height="30.45" fill="#F5AB2B" stroke="#F5AB2B" stroke-width="0.55"/>
<use href="#RG" x="73.92" y="443.05" width="7.50" height="30.45" fill="#F5AB2B" stroke="#F5AB2B" stroke-width="0.55"/>
<use href="#RG" x="83.29" y="443.05" width="7.50" height="30.45" fill="#F5AB2B" stroke="#F5AB2B" stroke-width="0.55"/>
<use href="#RA" x="92.66" y="443.05" width="7.50" height="30.45" fill="#D2233E" stroke="#D2233E" stroke-width="0.55"/>
<use href="#RG" x="102.03" y="443.05" width="7.50" height="30.45" fill="#F5AB2B" stroke="#F5AB2B" stroke-width="0.55"/>
<use href="#RG" x="111.40" y="443.05" width="7.50" height="30.45" fill="#F5AB2B" stroke="#F5AB2B" stroke-width="0.55"/>
<use href="#RA" x="120.77" y="443.05" width="7.50" height="30.45" fill="#D2233E" stroke="#D2233E" stroke-width="0.55"/>
<use href="#RG" x="130.14" y="443.05" width="7.50" height="30.45" fill="#F5AB2B" stroke="#F5AB2B" stroke-width="0.55"/>
<use href="#RG" x="64.55" y="476.35" width="7.50" height="34.55" fill="#F5AB2B" stroke="#F5AB2B" stroke-width="0.55"/>
<use href="#RG" x="73.92" y="476.35" width="7.50" height="34.55" fill="#F5AB2B" stroke="#F5AB2B" stroke-width="0.55"/>
<use href="#RG" x="83.29" y="476.35" width="7.50" height="34.55" fill="#F5AB2B" stroke="#F5AB2B" stroke-width="0.55"/>
<use href="#RC" x="92.66" y="476.35" width="7.50" height="34.55" fill="#3152A3" stroke="#3152A3" stroke-width="0.55"/>
<use href="#RG" x="102.03" y="476.35" width="7.50" height="34.55" fill="#F5AB2B" stroke="#F5AB2B" stroke-width="0.55"/>
<use href="#RT" x="111.40" y="476.35" width="7.50" height="34.55" fill="#117B3C" stroke="#117B3C" stroke-width="0.55"/>
<use href="#RG" x="120.77" y="476.35" width="7.50" height="34.55" fill="#F5AB2B" stroke="#F5AB2B" stroke-width="0.55"/>
<use href="#RG" x="130.14" y="476.35" width="7.50" height="34.55" fill="#F5AB2B" stroke="#F5AB2B" stroke-width="0.55"/>
<use href="#RG" x="64.55" y="513.75" width="7.50" height="66.20" fill="#F5AB2B" stroke="#F5AB2B" stroke-width="0.55"/>
<use href="#RG" x="73.92" y="513.75" width="7.50" height="66.20" fill="#F5AB2B" stroke="#F5AB2B" stroke-width="0.55"/>
<use href="#RG" x="83.29" y="513.75" width="7.50" height="66.20" fill="#F5AB2B" stroke="#F5AB2B" stroke-width="0.55"/>
<use href="#RC" x="92.66" y="513.75" width="7.50" height="66.20" fill="#3152A3" stroke="#3152A3" stroke-width="0.55"/>
<use href="#RG" x="102.03" y="513.75" width="7.50" height="66.20" fill="#F5AB2B" stroke="#F5AB2B" stroke-width="0.55"/>
<use href="#RG" x="111.40" y="513.75" width="7.50" height="66.20" fill="#F5AB2B" stroke="#F5AB2B" stroke-width="0.55"/>
<use href="#RG" x="120.77" y="513.75" width="7.50" height="66.20" fill="#F5AB2B" stroke="#F5AB2B" stroke-width="0.55"/>
<use href="#RG" x="130.14" y="513.75" width="7.50" height="66.20" fill="#F5AB2B" stroke="#F5AB2B" stroke-width="0.55"/>
<path d="M63.8 336.3H138.7" stroke="#666" stroke-width="0.9"/>
<path d="M63.8 355.2H138.7" stroke="#666" stroke-width="0.9"/>
<path d="M63.8 380.4H138.7" stroke="#666" stroke-width="0.9"/>
<path d="M63.8 410.2H138.7" stroke="#666" stroke-width="0.9"/>
<path d="M63.8 441.3H138.7" stroke="#666" stroke-width="0.9"/>
<path d="M63.8 474.6H138.7" stroke="#666" stroke-width="0.9"/>
<path d="M63.8 512.0H138.7" stroke="#666" stroke-width="0.9"/>
<path d="M63.8 580.3H138.7" stroke="#666" stroke-width="0.9"/>
<path d="M63.8 321.3H138.7" stroke="#888" stroke-width="0.8"/>
<path d="M64.0 297V580M138.5 297V580" stroke="#999" stroke-width="0.9" fill="none"/>
<path d="M141.0 296.6H146.6V320.9H141.0" stroke="#777" stroke-width="0.9" fill="none"/>
<text x="148.3" y="312.8" font-size="9.2" text-anchor="start" fill="#231f20" font-weight="normal" textLength="16.4" lengthAdjust="spacingAndGlyphs">&lt;3%</text>
<text x="140.3" y="332.9" font-size="8.8" text-anchor="start" fill="#231f20" font-weight="normal" >6%</text>
<text x="140.3" y="348.3" font-size="8.8" text-anchor="start" fill="#231f20" font-weight="normal" >7%</text>
<text x="140.3" y="370.7" font-size="8.8" text-anchor="start" fill="#231f20" font-weight="normal" >9%</text>
<text x="140.3" y="403.5" font-size="8.8" text-anchor="start" fill="#231f20" font-weight="normal" >11%</text>
<text x="140.3" y="439.2" font-size="8.8" text-anchor="start" fill="#231f20" font-weight="normal" >11%</text>
<text x="140.3" y="467.0" font-size="8.8" text-anchor="start" fill="#231f20" font-weight="normal" >12%</text>
<text x="140.3" y="503.5" font-size="8.8" text-anchor="start" fill="#231f20" font-weight="normal" >13%</text>
<text x="140.3" y="547.0" font-size="8.8" text-anchor="start" fill="#231f20" font-weight="normal" >24%</text>
<text x="70.3" y="590.3" font-size="8.6" text-anchor="middle" fill="#231f20" font-weight="normal" >2</text>
<text x="79.7" y="590.3" font-size="8.6" text-anchor="middle" fill="#231f20" font-weight="normal" >3</text>
<text x="89.0" y="590.3" font-size="8.6" text-anchor="middle" fill="#231f20" font-weight="normal" >4</text>
<text x="98.4" y="590.3" font-size="8.6" text-anchor="middle" fill="#231f20" font-weight="normal" >5</text>
<text x="107.8" y="590.3" font-size="8.6" text-anchor="middle" fill="#231f20" font-weight="normal" >6</text>
<text x="117.1" y="590.3" font-size="8.6" text-anchor="middle" fill="#231f20" font-weight="normal" >7</text>
<text x="126.5" y="590.3" font-size="8.6" text-anchor="middle" fill="#231f20" font-weight="normal" >8</text>
<text x="135.9" y="590.3" font-size="8.6" text-anchor="middle" fill="#231f20" font-weight="normal" >9</text>
<text x="101.2" y="601.8" font-size="10.2" text-anchor="middle" fill="#B5243A" font-weight="normal" >WT</text>
<rect x="175.6" y="297.3" width="74.9" height="1.90" fill="#46494E"/>
<rect x="175.6" y="299.2" width="74.9" height="1.40" fill="#2b2b2b"/>
<rect x="175.6" y="300.6" width="74.9" height="2.00" fill="#D4543C"/>
<rect x="175.6" y="302.6" width="74.9" height="0.70" fill="#333"/>
<rect x="175.6" y="303.3" width="74.9" height="7.50" fill="#3F8B57"/>
<rect x="175.6" y="310.8" width="74.9" height="0.50" fill="#333"/>
<rect x="175.6" y="311.3" width="74.9" height="5.30" fill="#4E5EA8"/>
<rect x="175.6" y="316.6" width="74.9" height="0.50" fill="#888"/>
<rect x="175.6" y="317.1" width="74.9" height="2.50" fill="#F6B54C"/>
<rect x="175.6" y="319.6" width="74.9" height="0.80" fill="#ccc"/>
<use href="#RG" x="177.15" y="322.15" width="7.50" height="10.35" fill="#F5AB2B" stroke="#F5AB2B" stroke-width="0.55"/>
<use href="#RG" x="186.52" y="322.15" width="7.50" height="10.35" fill="#F5AB2B" stroke="#F5AB2B" stroke-width="0.55"/>
<use href="#RG" x="195.89" y="322.15" width="7.50" height="10.35" fill="#F5AB2B" stroke="#F5AB2B" stroke-width="0.55"/>
<use href="#RT" x="205.26" y="322.15" width="7.50" height="10.35" fill="#117B3C" stroke="#117B3C" stroke-width="0.55"/>
<use href="#RG" x="214.63" y="322.15" width="7.50" height="10.35" fill="#F5AB2B" stroke="#F5AB2B" stroke-width="0.55"/>
<use href="#RT" x="224.00" y="322.15" width="7.50" height="10.35" fill="#117B3C" stroke="#117B3C" stroke-width="0.55"/>
<use href="#RG" x="233.37" y="322.15" width="7.50" height="10.35" fill="#F5AB2B" stroke="#F5AB2B" stroke-width="0.55"/>
<use href="#RG" x="242.74" y="322.15" width="7.50" height="10.35" fill="#F5AB2B" stroke="#F5AB2B" stroke-width="0.55"/>
<use href="#RG" x="177.15" y="335.35" width="7.50" height="16.55" fill="#F5AB2B" stroke="#F5AB2B" stroke-width="0.55"/>
<use href="#RG" x="186.52" y="335.35" width="7.50" height="16.55" fill="#F5AB2B" stroke="#F5AB2B" stroke-width="0.55"/>
<use href="#RG" x="195.89" y="335.35" width="7.50" height="16.55" fill="#F5AB2B" stroke="#F5AB2B" stroke-width="0.55"/>
<use href="#RA" x="205.26" y="335.35" width="7.50" height="16.55" fill="#D2233E" stroke="#D2233E" stroke-width="0.55"/>
<use href="#RG" x="214.63" y="335.35" width="7.50" height="16.55" fill="#F5AB2B" stroke="#F5AB2B" stroke-width="0.55"/>
<use href="#RG" x="224.00" y="335.35" width="7.50" height="16.55" fill="#F5AB2B" stroke="#F5AB2B" stroke-width="0.55"/>
<use href="#RG" x="233.37" y="335.35" width="7.50" height="16.55" fill="#F5AB2B" stroke="#F5AB2B" stroke-width="0.55"/>
<use href="#RG" x="242.74" y="335.35" width="7.50" height="16.55" fill="#F5AB2B" stroke="#F5AB2B" stroke-width="0.55"/>
<use href="#RG" x="177.15" y="354.75" width="7.50" height="18.35" fill="#F5AB2B" stroke="#F5AB2B" stroke-width="0.55"/>
<use href="#RG" x="186.52" y="354.75" width="7.50" height="18.35" fill="#F5AB2B" stroke="#F5AB2B" stroke-width="0.55"/>
<use href="#RG" x="195.89" y="354.75" width="7.50" height="18.35" fill="#F5AB2B" stroke="#F5AB2B" stroke-width="0.55"/>
<use href="#RC" x="205.26" y="354.75" width="7.50" height="18.35" fill="#3152A3" stroke="#3152A3" stroke-width="0.55"/>
<use href="#RG" x="214.63" y="354.75" width="7.50" height="18.35" fill="#F5AB2B" stroke="#F5AB2B" stroke-width="0.55"/>
<use href="#RT" x="224.00" y="354.75" width="7.50" height="18.35" fill="#117B3C" stroke="#117B3C" stroke-width="0.55"/>
<use href="#RA" x="233.37" y="354.75" width="7.50" height="18.35" fill="#D2233E" stroke="#D2233E" stroke-width="0.55"/>
<use href="#RG" x="242.74" y="354.75" width="7.50" height="18.35" fill="#F5AB2B" stroke="#F5AB2B" stroke-width="0.55"/>
<use href="#RG" x="177.15" y="375.95" width="7.50" height="30.35" fill="#F5AB2B" stroke="#F5AB2B" stroke-width="0.55"/>
<use href="#RG" x="186.52" y="375.95" width="7.50" height="30.35" fill="#F5AB2B" stroke="#F5AB2B" stroke-width="0.55"/>
<use href="#RG" x="195.89" y="375.95" width="7.50" height="30.35" fill="#F5AB2B" stroke="#F5AB2B" stroke-width="0.55"/>
<use href="#RG" x="205.26" y="375.95" width="7.50" height="30.35" fill="#F5AB2B" stroke="#F5AB2B" stroke-width="0.55"/>
<use href="#RG" x="214.63" y="375.95" width="7.50" height="30.35" fill="#F5AB2B" stroke="#F5AB2B" stroke-width="0.55"/>
<use href="#RG" x="224.00" y="375.95" width="7.50" height="30.35" fill="#F5AB2B" stroke="#F5AB2B" stroke-width="0.55"/>
<use href="#RA" x="233.37" y="375.95" width="7.50" height="30.35" fill="#D2233E" stroke="#D2233E" stroke-width="0.55"/>
<use href="#RG" x="242.74" y="375.95" width="7.50" height="30.35" fill="#F5AB2B" stroke="#F5AB2B" stroke-width="0.55"/>
<use href="#RG" x="177.15" y="409.15" width="7.50" height="31.95" fill="#F5AB2B" stroke="#F5AB2B" stroke-width="0.55"/>
<use href="#RG" x="186.52" y="409.15" width="7.50" height="31.95" fill="#F5AB2B" stroke="#F5AB2B" stroke-width="0.55"/>
<use href="#RG" x="195.89" y="409.15" width="7.50" height="31.95" fill="#F5AB2B" stroke="#F5AB2B" stroke-width="0.55"/>
<use href="#RC" x="205.26" y="409.15" width="7.50" height="31.95" fill="#3152A3" stroke="#3152A3" stroke-width="0.55"/>
<use href="#RG" x="214.63" y="409.15" width="7.50" height="31.95" fill="#F5AB2B" stroke="#F5AB2B" stroke-width="0.55"/>
<use href="#RG" x="224.00" y="409.15" width="7.50" height="31.95" fill="#F5AB2B" stroke="#F5AB2B" stroke-width="0.55"/>
<use href="#RA" x="233.37" y="409.15" width="7.50" height="31.95" fill="#D2233E" stroke="#D2233E" stroke-width="0.55"/>
<use href="#RG" x="242.74" y="409.15" width="7.50" height="31.95" fill="#F5AB2B" stroke="#F5AB2B" stroke-width="0.55"/>
<use href="#RG" x="177.15" y="443.95" width="7.50" height="27.45" fill="#F5AB2B" stroke="#F5AB2B" stroke-width="0.55"/>
<use href="#RG" x="186.52" y="443.95" width="7.50" height="27.45" fill="#F5AB2B" stroke="#F5AB2B" stroke-width="0.55"/>
<use href="#RG" x="195.89" y="443.95" width="7.50" height="27.45" fill="#F5AB2B" stroke="#F5AB2B" stroke-width="0.55"/>
<use href="#RA" x="205.26" y="443.95" width="7.50" height="27.45" fill="#D2233E" stroke="#D2233E" stroke-width="0.55"/>
<use href="#RG" x="214.63" y="443.95" width="7.50" height="27.45" fill="#F5AB2B" stroke="#F5AB2B" stroke-width="0.55"/>
<use href="#RG" x="224.00" y="443.95" width="7.50" height="27.45" fill="#F5AB2B" stroke="#F5AB2B" stroke-width="0.55"/>
<use href="#RA" x="233.37" y="443.95" width="7.50" height="27.45" fill="#D2233E" stroke="#D2233E" stroke-width="0.55"/>
<use href="#RG" x="242.74" y="443.95" width="7.50" height="27.45" fill="#F5AB2B" stroke="#F5AB2B" stroke-width="0.55"/>
<use href="#RG" x="177.15" y="474.25" width="7.50" height="33.35" fill="#F5AB2B" stroke="#F5AB2B" stroke-width="0.55"/>
<use href="#RG" x="186.52" y="474.25" width="7.50" height="33.35" fill="#F5AB2B" stroke="#F5AB2B" stroke-width="0.55"/>
<use href="#RG" x="195.89" y="474.25" width="7.50" height="33.35" fill="#F5AB2B" stroke="#F5AB2B" stroke-width="0.55"/>
<use href="#RC" x="205.26" y="474.25" width="7.50" height="33.35" fill="#3152A3" stroke="#3152A3" stroke-width="0.55"/>
<use href="#RG" x="214.63" y="474.25" width="7.50" height="33.35" fill="#F5AB2B" stroke="#F5AB2B" stroke-width="0.55"/>
<use href="#RT" x="224.00" y="474.25" width="7.50" height="33.35" fill="#117B3C" stroke="#117B3C" stroke-width="0.55"/>
<use href="#RG" x="233.37" y="474.25" width="7.50" height="33.35" fill="#F5AB2B" stroke="#F5AB2B" stroke-width="0.55"/>
<use href="#RG" x="242.74" y="474.25" width="7.50" height="33.35" fill="#F5AB2B" stroke="#F5AB2B" stroke-width="0.55"/>
<use href="#RG" x="177.15" y="510.45" width="7.50" height="69.50" fill="#F5AB2B" stroke="#F5AB2B" stroke-width="0.55"/>
<use href="#RG" x="186.52" y="510.45" width="7.50" height="69.50" fill="#F5AB2B" stroke="#F5AB2B" stroke-width="0.55"/>
<use href="#RG" x="195.89" y="510.45" width="7.50" height="69.50" fill="#F5AB2B" stroke="#F5AB2B" stroke-width="0.55"/>
<use href="#RC" x="205.26" y="510.45" width="7.50" height="69.50" fill="#3152A3" stroke="#3152A3" stroke-width="0.55"/>
<use href="#RG" x="214.63" y="510.45" width="7.50" height="69.50" fill="#F5AB2B" stroke="#F5AB2B" stroke-width="0.55"/>
<use href="#RG" x="224.00" y="510.45" width="7.50" height="69.50" fill="#F5AB2B" stroke="#F5AB2B" stroke-width="0.55"/>
<use href="#RG" x="233.37" y="510.45" width="7.50" height="69.50" fill="#F5AB2B" stroke="#F5AB2B" stroke-width="0.55"/>
<use href="#RG" x="242.74" y="510.45" width="7.50" height="69.50" fill="#F5AB2B" stroke="#F5AB2B" stroke-width="0.55"/>
<path d="M175.6 333.6H250.5" stroke="#666" stroke-width="0.9"/>
<path d="M175.6 353.0H250.5" stroke="#666" stroke-width="0.9"/>
<path d="M175.6 374.2H250.5" stroke="#666" stroke-width="0.9"/>
<path d="M175.6 407.4H250.5" stroke="#666" stroke-width="0.9"/>
<path d="M175.6 442.2H250.5" stroke="#666" stroke-width="0.9"/>
<path d="M175.6 472.5H250.5" stroke="#666" stroke-width="0.9"/>
<path d="M175.6 508.7H250.5" stroke="#666" stroke-width="0.9"/>
<path d="M175.6 580.3H250.5" stroke="#666" stroke-width="0.9"/>
<path d="M175.6 320.4H250.5" stroke="#888" stroke-width="0.8"/>
<path d="M175.79999999999998 297V580M250.3 297V580" stroke="#999" stroke-width="0.9" fill="none"/>
<path d="M251.0 296.6H256.6V319.6H251.0" stroke="#777" stroke-width="0.9" fill="none"/>
<text x="258.3" y="310.6" font-size="9.2" text-anchor="start" fill="#231f20" font-weight="normal" textLength="16.4" lengthAdjust="spacingAndGlyphs">&lt;3%</text>
<text x="252.1" y="332.9" font-size="8.8" text-anchor="start" fill="#231f20" font-weight="normal" >5%</text>
<text x="252.1" y="348.3" font-size="8.8" text-anchor="start" fill="#231f20" font-weight="normal" >7%</text>
<text x="252.1" y="370.7" font-size="8.8" text-anchor="start" fill="#231f20" font-weight="normal" >8%</text>
<text x="252.1" y="403.5" font-size="8.8" text-anchor="start" fill="#231f20" font-weight="normal" >12%</text>
<text x="252.1" y="439.2" font-size="8.8" text-anchor="start" fill="#231f20" font-weight="normal" >13%</text>
<text x="252.1" y="467.0" font-size="8.8" text-anchor="start" fill="#231f20" font-weight="normal" >10%</text>
<text x="252.1" y="503.5" font-size="8.8" text-anchor="start" fill="#231f20" font-weight="normal" >13%</text>
<text x="252.1" y="547.0" font-size="8.8" text-anchor="start" fill="#231f20" font-weight="normal" >26%</text>
<text x="182.1" y="588.5" font-size="8.6" text-anchor="middle" fill="#231f20" font-weight="normal" >2</text>
<text x="191.5" y="588.5" font-size="8.6" text-anchor="middle" fill="#231f20" font-weight="normal" >3</text>
<text x="200.8" y="588.5" font-size="8.6" text-anchor="middle" fill="#231f20" font-weight="normal" >4</text>
<text x="210.2" y="588.5" font-size="8.6" text-anchor="middle" fill="#231f20" font-weight="normal" >5</text>
<text x="219.6" y="588.5" font-size="8.6" text-anchor="middle" fill="#231f20" font-weight="normal" >6</text>
<text x="228.9" y="588.5" font-size="8.6" text-anchor="middle" fill="#231f20" font-weight="normal" >7</text>
<text x="238.3" y="588.5" font-size="8.6" text-anchor="middle" fill="#231f20" font-weight="normal" >8</text>
<text x="247.7" y="588.5" font-size="8.6" text-anchor="middle" fill="#231f20" font-weight="normal" >9</text>
<text x="213.1" y="601.8" font-size="10.2" text-anchor="middle" fill="#3F5AAE" font-weight="normal" >H350R</text>
<rect x="284.3" y="297.90" width="10.2" height="9.6" fill="#F6B54C" stroke="#333" stroke-width="0.9"/>
<text x="302.6" y="306.30" font-size="9.1" text-anchor="start" fill="#231f20" font-weight="normal" textLength="51.8" lengthAdjust="spacingAndGlyphs">GGGGGTGG</text>
<rect x="284.3" y="310.72" width="10.2" height="9.6" fill="#4E5EA8" stroke="#333" stroke-width="0.9"/>
<text x="302.6" y="319.12" font-size="9.1" text-anchor="start" fill="#231f20" font-weight="normal" textLength="51.8" lengthAdjust="spacingAndGlyphs">GGGAGTGG</text>
<rect x="284.3" y="323.54" width="10.2" height="9.6" fill="#3F8B57" stroke="#333" stroke-width="0.9"/>
<text x="302.6" y="331.94" font-size="9.1" text-anchor="start" fill="#231f20" font-weight="normal" textLength="51.8" lengthAdjust="spacingAndGlyphs">GGGAGGGG</text>
<rect x="284.3" y="336.36" width="10.2" height="9.6" fill="#D4543C" stroke="#333" stroke-width="0.9"/>
<text x="302.6" y="344.76" font-size="9.1" text-anchor="start" fill="#231f20" font-weight="normal" textLength="51.8" lengthAdjust="spacingAndGlyphs">GGGTGTAG</text>
<rect x="284.3" y="349.18" width="10.2" height="9.6" fill="#4A4D52" stroke="#333" stroke-width="0.9"/>
<text x="302.6" y="357.58" font-size="9.1" text-anchor="start" fill="#231f20" font-weight="normal" textLength="51.8" lengthAdjust="spacingAndGlyphs">GGGAGTAG</text>
<rect x="284.3" y="362.00" width="10.2" height="9.6" fill="#8C9196" stroke="#333" stroke-width="0.9"/>
<text x="302.6" y="370.40" font-size="9.1" text-anchor="start" fill="#231f20" font-weight="normal" textLength="51.8" lengthAdjust="spacingAndGlyphs">GGGGGGGG</text>
<rect x="284.3" y="374.82" width="10.2" height="9.6" fill="#FFFFFF" stroke="#333" stroke-width="0.9"/>
<text x="302.6" y="383.22" font-size="9.1" text-anchor="start" fill="#231f20" font-weight="normal" textLength="51.8" lengthAdjust="spacingAndGlyphs">GGGGGTAG</text>
<rect x="284.3" y="387.64" width="10.2" height="9.6" fill="#FFFFFF" stroke="#333" stroke-width="0.9"/>
<text x="302.6" y="396.04" font-size="9.1" text-anchor="start" fill="#231f20" font-weight="normal" textLength="51.8" lengthAdjust="spacingAndGlyphs">GGGTGGAG</text>
<text x="376.8" y="291.6" font-size="15.6" text-anchor="start" fill="#111" font-weight="bold" >D</text>
<text x="462.25" y="303.8" font-size="9.9" text-anchor="middle" fill="#333" font-weight="normal" textLength="69.3" lengthAdjust="spacingAndGlyphs">Combined Peaks</text>
<text x="461.85" y="315.4" font-size="9.9" text-anchor="middle" fill="#333" font-weight="normal" textLength="25.3" lengthAdjust="spacingAndGlyphs">(1293)</text>
<text x="601.85" y="303.8" font-size="9.9" text-anchor="middle" fill="#333" font-weight="normal" textLength="64.9" lengthAdjust="spacingAndGlyphs">Common Peaks</text>
<text x="602.1" y="315.4" font-size="9.9" text-anchor="middle" fill="#333" font-weight="normal" textLength="21.0" lengthAdjust="spacingAndGlyphs">(341)</text>
<g clip-path="url(#hca)">
<rect x="390.0" y="325.0" width="71.5" height="221.0" fill="#ADC7E1"/>
<rect x="390.0" y="325.0" width="71.5" height="221.0" fill="#fff" filter="url(#twa)"/>
<rect x="390.0" y="325.0" width="71.5" height="221.0" fill="#fff" filter="url(#tda)"/>
<rect x="390.0" y="325.0" width="71.5" height="221.0" fill="#fff" filter="url(#tga)"/>
<g filter="url(#dpa)">
<polygon points="407.0,320.0 409.0,335.0 410.5,365.0 410.0,425.0 409.0,551.0 439.0,551.0 440.0,425.0 441.5,365.0 443.0,335.0 445.0,320.0" fill="url(#vga0)" filter="url(#bl7)"/>
<g mask="url(#mma)"><polygon points="412.0,320.0 415.5,340.0 417.5,365.0 417.5,425.0 416.5,551.0 431.5,551.0 432.5,425.0 434.5,365.0 436.5,340.0 440.0,320.0" fill="url(#vga1)" filter="url(#bl3_5)"/></g>
<g mask="url(#mka)"><polygon points="420.5,345.0 421.0,365.0 421.0,405.0 421.2,435.0 421.5,465.0 422.5,505.0 424.0,551.0 424.0,551.0 425.5,505.0 427.5,465.0 428.8,435.0 430.0,405.0 431.0,365.0 431.5,345.0" fill="url(#vga2)" filter="url(#bl1_5)"/></g>
<polygon points="410.9,320.0 411.4,326.0 415.8,333.0 419.2,340.0 422.1,355.0 423.4,367.0 424.8,377.0 426.0,385.0 426.0,385.0 427.2,377.0 428.6,367.0 430.5,355.0 434.4,340.0 436.8,333.0 439.4,326.0 439.9,320.0" fill="#000000" fill-opacity="1" filter="url(#bl1_2)"/>
</g>
</g>
<g clip-path="url(#hcb)">
<rect x="461.5" y="325.0" width="71.5" height="221.0" fill="#ADC7E1"/>
<rect x="461.5" y="325.0" width="71.5" height="221.0" fill="#fff" filter="url(#twb)"/>
<rect x="461.5" y="325.0" width="71.5" height="221.0" fill="#fff" filter="url(#tdb)"/>
<rect x="461.5" y="325.0" width="71.5" height="221.0" fill="#fff" filter="url(#tgb)"/>
<g filter="url(#dpb)">
<polygon points="479.3,320.0 481.3,340.0 482.3,385.0 482.3,485.0 481.3,551.0 509.3,551.0 510.3,485.0 510.3,385.0 511.3,340.0 513.3,320.0" fill="#5290CA" fill-opacity="0.75" filter="url(#bl7)"/>
<g mask="url(#mmb)"><polygon points="484.3,320.0 487.3,335.0 489.3,365.0 489.8,425.0 488.3,551.0 502.3,551.0 502.8,425.0 503.3,365.0 505.3,335.0 508.3,320.0" fill="#3A74B4" fill-opacity="0.6" filter="url(#bl3_5)"/></g>
<g mask="url(#mkb)"><polygon points="487.3,320.0 488.8,333.0 490.3,350.0 491.8,370.0 493.3,385.0 495.1,397.0 496.3,405.0 496.3,405.0 497.5,397.0 499.3,385.0 500.8,370.0 502.3,350.0 503.8,333.0 505.3,320.0" fill="#14365F" fill-opacity="0.9" filter="url(#bl1_5)"/></g>
<polygon points="484.8,320.0 484.8,327.2 488.3,327.8 488.8,331.0 496.3,332.5 496.3,332.5 503.8,331.0 504.3,327.8 507.8,327.2 507.8,320.0" fill="#000000" fill-opacity="1" filter="url(#bl1_0)"/>
</g>
</g>
<g clip-path="url(#hcc)">
<rect x="541.0" y="325.0" width="72.5" height="223.70000000000005" fill="#A9C5E2"/>
<rect x="541.0" y="325.0" width="72.5" height="223.70000000000005" fill="#fff" filter="url(#twc)"/>
<rect x="541.0" y="325.0" width="72.5" height="223.70000000000005" fill="#fff" filter="url(#tdc)"/>
<rect x="541.0" y="325.0" width="72.5" height="223.70000000000005" fill="#fff" filter="url(#tgc)"/>
<g filter="url(#dpc)">
<g mask="url(#mmc)"><polygon points="559.6,320.0 561.1,345.0 563.6,385.0 564.1,485.0 564.1,553.7 591.1,553.7 591.1,485.0 591.6,385.0 594.1,345.0 595.6,320.0" fill="url(#vgc0)" filter="url(#bl4)"/></g>
<g mask="url(#mmc)"><polygon points="563.6,320.0 566.6,355.0 569.1,385.0 570.1,425.0 570.1,485.0 570.1,553.7 585.1,553.7 585.1,485.0 585.1,425.0 586.1,385.0 588.6,355.0 591.6,320.0" fill="url(#vgc1)" filter="url(#bl2)"/></g>
<g mask="url(#mkc)"><polygon points="570.6,365.0 572.6,425.0 573.6,485.0 574.1,553.7 581.1,553.7 581.6,485.0 582.6,425.0 584.6,365.0" fill="url(#vgc2)" filter="url(#bl1_5)"/></g>
<polygon points="565.0,320.0 565.2,327.0 568.0,340.0 568.7,355.0 572.0,380.0 572.3,390.0 573.9,425.0 577.6,429.0 577.6,429.0 581.4,425.0 582.9,390.0 583.2,380.0 586.5,355.0 587.2,340.0 590.0,327.0 590.2,320.0" fill="#000000" fill-opacity="1" filter="url(#bl1_0)"/>
<g mask="url(#mkc)"><polygon points="572.2,385.0 573.9,425.0 574.3,455.0 574.8,485.0 575.6,525.0 576.1,553.7 579.1,553.7 579.6,525.0 580.4,485.0 580.9,455.0 581.4,425.0 583.0,385.0" fill="url(#vgc4)" filter="url(#bl1_0)"/></g>
</g>
</g>
<g clip-path="url(#hcd)">
<rect x="613.5" y="325.0" width="71.5" height="223.70000000000005" fill="#A9C5E2"/>
<rect x="613.5" y="325.0" width="71.5" height="223.70000000000005" fill="#fff" filter="url(#twd)"/>
<rect x="613.5" y="325.0" width="71.5" height="223.70000000000005" fill="#fff" filter="url(#tdd)"/>
<rect x="613.5" y="325.0" width="71.5" height="223.70000000000005" fill="#fff" filter="url(#tgd)"/>
<g filter="url(#dpd)">
<g mask="url(#mmd)"><polygon points="631.8,320.0 634.3,345.0 635.3,385.0 635.8,553.7 662.8,553.7 662.3,385.0 663.3,345.0 665.8,320.0" fill="url(#vgd0)" filter="url(#bl4)"/></g>
<g mask="url(#mmd)"><polygon points="636.8,320.0 639.8,345.0 640.8,375.0 641.8,553.7 656.8,553.7 656.8,375.0 657.8,345.0 660.8,320.0" fill="url(#vgd1)" filter="url(#bl2)"/></g>
<polygon points="637.3,320.0 637.6,328.0 639.5,335.0 641.3,340.0 642.4,347.0 648.8,351.0 648.8,351.0 655.2,347.0 656.3,340.0 658.1,335.0 660.0,328.0 660.3,320.0" fill="#000000" fill-opacity="1" filter="url(#bl1_0)"/>
<g mask="url(#mkd)"><polygon points="641.8,340.0 642.8,355.0 643.1,370.0 643.9,425.0 645.3,553.7 653.3,553.7 652.9,425.0 654.1,370.0 654.8,355.0 655.8,340.0" fill="url(#vgd3)" filter="url(#bl1_0)"/></g>
</g>
</g>
<path d="M461.5 325.0V546.0M613.5 325.0V548.7" stroke="#EEF3F8" stroke-width="0.7" stroke-opacity="0.28"/>
<path d="M425.9 553.3H461.8" stroke="#231f20" stroke-width="0.9"/>
<path d="M422.2 561.9l3.75 -5.7l3.75 5.7z" fill="#231f20"/>
<text x="431.2" y="562.9" font-size="10.2" text-anchor="start" fill="#231f20" font-weight="normal" textLength="30.4" lengthAdjust="spacingAndGlyphs">500 bp</text>
<path d="M497.0 553.3H533.2" stroke="#231f20" stroke-width="0.9"/>
<path d="M493.6 561.9l3.75 -5.7l3.75 5.7z" fill="#231f20"/>
<text x="502.6" y="562.9" font-size="10.2" text-anchor="start" fill="#231f20" font-weight="normal" textLength="31.0" lengthAdjust="spacingAndGlyphs">500 bp</text>
<path d="M576.9 551.9H612.6" stroke="#231f20" stroke-width="0.9"/>
<path d="M573.4 561.0l3.75 -5.7l3.75 5.7z" fill="#231f20"/>
<text x="582.4" y="562.0" font-size="10.2" text-anchor="start" fill="#231f20" font-weight="normal" textLength="30.3" lengthAdjust="spacingAndGlyphs">500 bp</text>
<path d="M648.3 551.9H685.5" stroke="#231f20" stroke-width="0.9"/>
<path d="M644.6 561.0l3.75 -5.7l3.75 5.7z" fill="#231f20"/>
<text x="653.6" y="562.0" font-size="10.2" text-anchor="start" fill="#231f20" font-weight="normal" textLength="31.0" lengthAdjust="spacingAndGlyphs">500 bp</text>
<text x="427.85" y="574.7" font-size="9.9" text-anchor="middle" fill="#333" font-weight="normal" textLength="56.9" lengthAdjust="spacingAndGlyphs">Wildtype ChIP</text>
<text x="507.85" y="574.7" font-size="9.9" text-anchor="middle" fill="#333" font-weight="normal" textLength="47.7" lengthAdjust="spacingAndGlyphs">H350R ChIP</text>
<text x="576.65" y="574.7" font-size="9.9" text-anchor="middle" fill="#333" font-weight="normal" textLength="57.9" lengthAdjust="spacingAndGlyphs">Wildtype ChIP</text>
<text x="659.3" y="574.7" font-size="9.9" text-anchor="middle" fill="#333" font-weight="normal" textLength="49.0" lengthAdjust="spacingAndGlyphs">H350R ChIP</text>
<rect x="499.2" y="580.8" width="27.7" height="7.4" fill="url(#cbar)" stroke="#888" stroke-width="0.6"/>
<text x="494.2" y="587.4" font-size="7.3" text-anchor="middle" fill="#333" font-weight="normal" >0</text>
<text x="532.0" y="587.4" font-size="7.3" text-anchor="middle" fill="#333" font-weight="normal" >5</text>
</svg>
</body></html>
